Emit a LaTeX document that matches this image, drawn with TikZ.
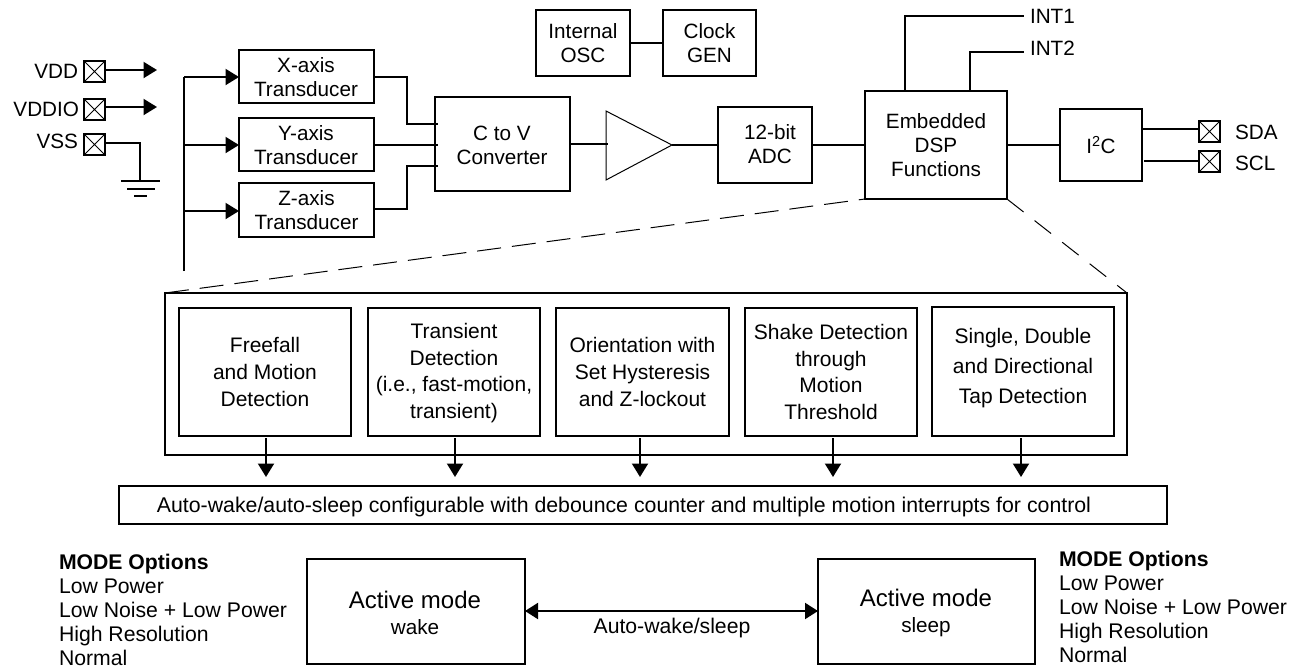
\documentclass[tikz,border=0pt]{standalone}
\usepackage{fontspec}
\setmainfont{Liberation Sans}
\usetikzlibrary{arrows.meta,calc}
\tikzset{
  px/.style={x=1pt,y=-1pt},
  wire/.style={line width=2pt,line cap=butt},
  thinwire/.style={line width=1pt},
  arrowwire/.style={wire,-{Triangle[length=13.5pt,width=16pt]}},
  biwire/.style={wire,{Triangle[length=13pt,width=16pt]}-{Triangle[length=13pt,width=16pt]}},
  boxnode/.style={draw,line width=2pt,inner sep=0pt,outer sep=0pt,align=center,font=\fontsize{20.7}{24}\selectfont},
  fnnode/.style={boxnode,font=\fontsize{21}{26.7}\selectfont},
  padnode/.style={draw,line width=2pt,inner sep=0pt,outer sep=0pt,minimum width=21pt,minimum height=21pt},
  lbl/.style={inner sep=0pt,outer sep=0pt,font=\fontsize{20.7}{24}\selectfont},
  modetext/.style={inner sep=0pt,outer sep=0pt,align=left,anchor=north west,font=\fontsize{21.2}{24}\selectfont},
  activetext/.style={inner sep=0pt,align=center,font=\fontsize{24}{26}\selectfont},
  dashline/.style={thinwire,dash pattern=on 24pt off 11pt},
}
\newcommand{\mkbox}[7][boxnode]{%
  \pgfmathsetmacro{\cxv}{(#3+#5)/2}\pgfmathsetmacro{\cyv}{(#4+#6)/2}%
  \pgfmathsetmacro{\wv}{#5-#3}\pgfmathsetmacro{\hv}{#6-#4}%
  \node[#1,minimum width=\wv pt,minimum height=\hv pt] (#2) at (\cxv,\cyv) {#7};}
\newcommand{\mkpad}[3]{%
  \node[padnode] (#1) at (#2,#3) {};
  \draw[thinwire] (#1.north west) -- (#1.south east) (#1.north east) -- (#1.south west);}
\begin{document}
\begin{tikzpicture}[px]
\useasboundingbox (0,0) rectangle (1296,670);
% boxes
\mkbox{xt}{239}{50}{374}{103}{}
\node[lbl,align=center] (xtt) at (306,77) {X-axis\\Transducer};
\mkbox{yt}{239}{118}{374}{171}{}
\node[lbl,align=center] (ytt) at (306,145) {Y-axis\\Transducer};
\mkbox{zt}{239}{183}{374}{237}{Z-axis\\Transducer}
\mkbox{conv}{435}{97}{570}{191}{}
\node[lbl,align=center] (convt) at (502,145) {C to V\\Converter};
\mkbox{osc}{536}{10}{630}{76}{Internal\\OSC}
\mkbox{clk}{663}{10}{756}{76}{Clock\\GEN}
\mkbox{adc}{718}{107}{812}{183}{}
\node[lbl,align=center] (adct) at (770,144) {12-bit\\ADC\hspace{5pt}};
\mkbox{dsp}{865}{91}{1007}{199}{Embedded\\DSP\\Functions}
\mkbox{iic}{1060}{109}{1142}{181}{I\textsuperscript{2}C}
\coordinate (ampt) at (606,111);
\coordinate (ampb) at (606,180);
\coordinate (ampo) at (672,145);
\draw[thinwire,line join=miter] (ampt) -- (ampo) -- (ampb) -- cycle;
% pads and labels
\mkpad{vdd}{94.5}{71.5}
\mkpad{vddio}{94.5}{109.5}
\mkpad{vss}{94.5}{144.5}
\mkpad{sda}{1209.5}{131.5}
\mkpad{scl}{1209.5}{161.5}
\node[lbl,anchor=east] (lvdd) at (78,71) {VDD};
\node[lbl,anchor=east] (lvddio) at (79,109) {VDDIO};
\node[lbl,anchor=east] (lvss) at (78,141) {VSS};
\node[lbl,anchor=west] (lsda) at (1235,132) {SDA};
\node[lbl,anchor=west] (lscl) at (1235,163) {SCL};
\node[lbl,anchor=west] (lint1) at (1030,16) {INT1};
\node[lbl,anchor=west] (lint2) at (1030,48) {INT2};
% power
\coordinate (vddend) at (157,70);
\coordinate (vddioend) at (157,107);
\draw[arrowwire] (vdd.east |- vddend) -- (vddend);
\draw[arrowwire] (vddio.east |- vddioend) -- (vddioend);
\coordinate (gnd) at (140,181);
\draw[wire] (vss.east |- 0,143) -| (gnd);
\coordinate (gndal) at (121,181); \coordinate (gndar) at (160,181);
\coordinate (gndbl) at (127,189); \coordinate (gndbr) at (155,189);
\coordinate (gndcl) at (134,196); \coordinate (gndcr) at (147,196);
\draw[wire] (gndal) -- (gndar) (gndbl) -- (gndbr) (gndcl) -- (gndcr);
% bus
\coordinate (bustop) at (184,77);
\coordinate (busbot) at (184,271);
\draw[wire] (busbot) -- (bustop);
\draw[arrowwire] (bustop) -- (xt.west |- bustop);
\draw[arrowwire] (bustop |- 0,145) -- (yt.west |- 0,145);
\draw[arrowwire] (bustop |- 0,211) -- (zt.west |- 0,211);
% transducers to converter
\coordinate (cia) at (438,124);
\coordinate (cib) at (438,145);
\coordinate (cic) at (438,166);
\coordinate (xj) at (407,77);
\coordinate (zj) at (407,209);
\draw[wire] (xt.east |- xj) -- (xj) |- (cia);
\draw[wire] (yt.east |- cib) -- (cib);
\draw[wire] (zt.east |- zj) -- (zj) |- (cic);
% chain
\coordinate (ampi) at (608,144);
\draw[wire] (conv.east |- ampi) -- (ampi);
\draw[wire] (ampo) -- (adc.west |- ampo);
\draw[wire] (adc.east |- ampo) -- (dsp.west |- ampo);
\draw[wire] (osc.east |- 0,43) -- (clk.west |- 0,43);
\draw[wire] (dsp.east |- 0,145) -- (iic.west |- 0,145);
\coordinate (inta) at (1024,16);
\coordinate (intb) at (1024,52);
\draw[wire] (dsp.north -| 905,0) |- (inta);
\draw[wire] (dsp.north -| 970,0) |- (intb);
\draw[wire] (iic.east |- 0,129) -- (sda.west |- 0,129);
\coordinate (sclstart) at (1144,161);
\draw[wire] (sclstart) -- (scl.west |- sclstart);
% panel
\mkbox{panel}{165}{293}{1127}{455}{}
\mkbox[fnnode]{fa}{179}{308}{351}{436}{Freefall\\and Motion\\Detection}
\mkbox[fnnode]{fb}{368}{308}{540}{436}{}
\node[inner sep=0pt,align=center,font=\fontsize{21}{26.7}\selectfont] (fbt) at (454,373) {Transient\\Detection\\(i.e., fast-motion,\\transient)};
\mkbox[fnnode]{fc}{556}{308}{729}{436}{Orientation with\\Set Hysteresis\\and Z-lockout}
\mkbox[fnnode]{fd}{745}{308}{917}{436}{Shake Detection\\through\\Motion\\Threshold}
\mkbox[fnnode]{fe}{932}{307}{1114}{436}{}
\node[inner sep=0pt,align=center,font=\fontsize{21}{30}\selectfont] (fet) at (1023,368) {Single, Double\\and Directional\\Tap Detection};
\draw[dashline] (panel.north west) -- (dsp.south west);
\draw[thinwire,dash pattern=on 21pt off 14pt] (dsp.south east) -- (panel.north east);
% bottom bar
\mkbox{bar}{119}{486}{1167}{524}{}
\node[inner sep=0pt,font=\fontsize{21.3}{24}\selectfont] (bart) at (624,507) {Auto-wake/auto-sleep configurable with debounce counter and multiple motion interrupts for control};
\foreach \nm/\ax in {fa/266,fb/455,fc/640,fd/833,fe/1021}{
  \draw[arrowwire,shorten <=2pt,shorten >=9pt] (\nm.south -| \ax,0) -- (bar.north -| \ax,0);
}
% modes
\mkbox{wake}{307}{559}{525}{664}{}
\mkbox{sleep}{818}{559}{1035}{664}{}
\node[activetext] (waket) at (415,613) {Active mode\\{\fontsize{20.7}{26}\selectfont wake}};
\node[activetext] (sleept) at (926,613) {Active mode\\{\fontsize{20.7}{26}\selectfont sleep}};
\draw[biwire] (wake.east |- 0,611) -- (sleep.west |- 0,611);
\node[lbl,font=\fontsize{21.2}{24}\selectfont] (autow) at (672,628) {Auto-wake/sleep};
\node[modetext] (ml) at (59,554) {\textbf{MODE Options}\\Low Power\\Low Noise + Low Power\\High Resolution\\Normal};
\node[modetext] (mr) at (1059,551) {\textbf{MODE Options}\\Low Power\\Low Noise + Low Power\\High Resolution\\Normal};
\end{tikzpicture}
\end{document}
